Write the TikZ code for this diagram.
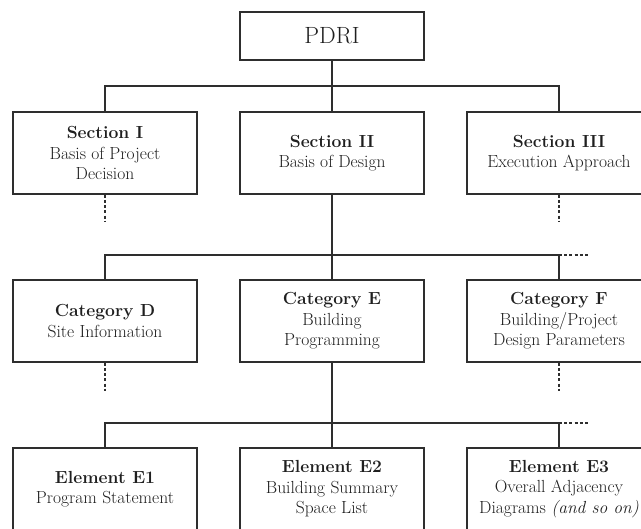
\documentclass[tikz,border=0pt]{standalone}
\begin{document}
\begin{tikzpicture}[x=1pt,y=-1pt,
  box/.style={draw=black!82,line width=1.5pt,fill=white,minimum width=184pt,
    minimum height=82pt,align=center,inner sep=0pt,text=black!88,
    font=\fontsize{17.5}{20.5}\selectfont},
  link/.style={draw=black!82,line width=1.5pt},
  more/.style={draw=black!82,line width=1.4pt,dash pattern=on 3pt off 2.2pt}]
\useasboundingbox (0,0) rectangle (641,529);
\clip (0,0) rectangle (641,529);
\fill[white] (0,0) rectangle (641,529);

% top level
\node[box,minimum height=48pt,font=\fontsize{23.5}{26}\selectfont] (pdri) at (332,36) {PDRI};

% sections
\node[box] (s1) at (105,153) {\textbf{Section I}\\Basis of Project\\Decision};
\node[box] (s2) at (332,153) {\textbf{Section II}\\Basis of Design};
\node[box] (s3) at (559,153) {\textbf{Section III}\\Execution Approach};

% categories
\node[box] (cd) at (105,321) {\textbf{Category D}\\Site Information};
\node[box] (ce) at (332,321) {\textbf{Category E}\\Building\\Programming};
\node[box] (cf) at (559,321) {\textbf{Category F}\\Building/Project\\Design Parameters};

% elements (boxes run past the lower edge)
\node[box] (e1) at (105,489) {\textbf{Element E1}\\Program Statement};
\node[box] (e2) at (332,489) {\textbf{Element E2}\\Building Summary\\Space List};
\node[box] (e3) at (559,489) {\textbf{Element E3}\\Overall Adjacency\\Diagrams \textit{(and so on)}};

% bus lines
\coordinate (b1) at (332,86);
\coordinate (b2) at (332,255);
\coordinate (b3) at (332,423);
\coordinate (x2) at (589,255);
\coordinate (x3) at (589,423);

\draw[link] (pdri.south) -- (b1);
\draw[link] (s1.north) |- (b1) -| (s3.north);
\draw[link] (b1) -- (s2.north);

\draw[link] (s2.south) -- (b2);
\draw[link] (cd.north) |- (b2) -| (cf.north);
\draw[link] (b2) -- (ce.north);
\draw[more] (cf.north |- b2) -- (x2);

\draw[link] (ce.south) -- (b3);
\draw[link] (e1.north) |- (b3) -| (e3.north);
\draw[link] (b3) -- (e2.north);
\draw[more] (e3.north |- b3) -- (x3);

% continuation marks
\coordinate (d1) at (105,222);
\coordinate (d3) at (559,222);
\coordinate (dd) at (105,391);
\coordinate (df) at (559,391);
\draw[more] (s1.south) -- (d1);
\draw[more] (s3.south) -- (d3);
\draw[more] (cd.south) -- (dd);
\draw[more] (cf.south) -- (df);
\end{tikzpicture}
\end{document}
